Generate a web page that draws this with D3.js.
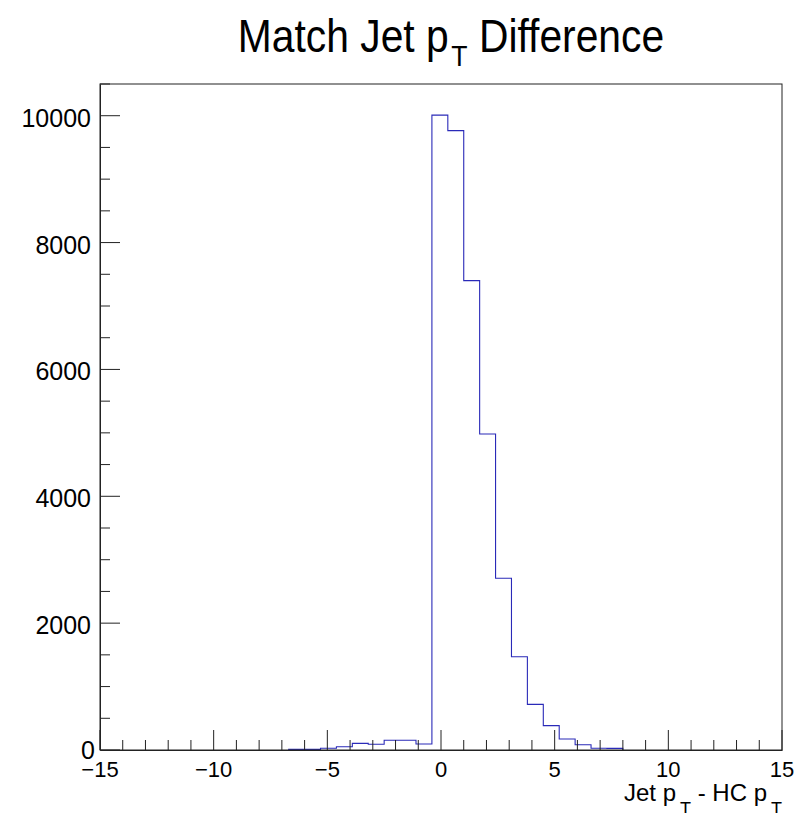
<!DOCTYPE html>
<html>
<head>
<meta charset="utf-8">
<script src="https://cdn.jsdelivr.net/npm/d3@7"></script>
<style>
  html, body { margin: 0; padding: 0; background: #fff; }
  svg { display: block; font-family: "Liberation Sans", Arial, Helvetica, sans-serif; }
</style>
</head>
<body>
<svg id="chart" width="802" height="813"></svg>
<script>
// ---- data ----
const binStart = -6.7;        // lower edge of first filled bin
const binWidth = 0.7;
const counts = [10, 10, 27, 52, 105, 90, 153, 153, 95,
                10010, 9765, 7400, 4981, 2707, 1471, 720, 384, 173, 82, 27, 25];
const xDomain = [-15, 15];
const yDomain = [0, 10500];
const xMajorTicks = [-15, -10, -5, 0, 5, 10, 15];
const yMajorTicks = [0, 2000, 4000, 6000, 8000, 10000];
const titleMain = ["Match Jet p", "T", " Difference"];
const xTitleParts = [["Jet p", false], ["T", true], [" - HC p", false], ["T", true]];

// ---- layout ----
const frame = { left: 100, right: 782, top: 84, bottom: 750 };
const svg = d3.select("#chart");

const x = d3.scaleLinear().domain(xDomain).range([frame.left, frame.right]);
const y = d3.scaleLinear().domain(yDomain).range([frame.bottom, frame.top]);

// ---- histogram outline ----
const bins = counts.map((c, i) => ({ x0: binStart + i * binWidth, x1: binStart + (i + 1) * binWidth, v: c }));
const pts = [[bins[0].x0, 0]];
bins.forEach(b => { pts.push([b.x0, b.v]); pts.push([b.x1, b.v]); });
pts.push([bins[bins.length - 1].x1, 0]);
svg.append("path")
  .attr("d", d3.line().x(d => x(d[0])).y(d => y(d[1]))(pts))
  .attr("fill", "none")
  .attr("stroke", "#2a2ab8")
  .attr("stroke-width", 1.1);

// ---- frame ----
svg.append("rect")
  .attr("x", frame.left).attr("y", frame.top)
  .attr("width", frame.right - frame.left).attr("height", frame.bottom - frame.top)
  .attr("fill", "none").attr("stroke", "#222").attr("stroke-width", 1);

// ---- x axis (ticks inside, ROOT style) ----
const xAxis = d3.axisBottom(x).tickValues(xMajorTicks).tickSize(0).tickFormat(() => "");
svg.append("g").attr("transform", `translate(0,${frame.bottom})`).call(xAxis)
  .call(g => g.select(".domain").attr("stroke", "#222"));
const xMinor = d3.range(xDomain[0], xDomain[1] + 0.001, 1);
const gx = svg.append("g");
xMinor.forEach(v => {
  const major = xMajorTicks.includes(v);
  gx.append("line")
    .attr("x1", x(v)).attr("x2", x(v))
    .attr("y1", frame.bottom).attr("y2", frame.bottom - (major ? 20 : 10))
    .attr("stroke", "#222").attr("stroke-width", 1);
});
xMajorTicks.forEach(v => {
  svg.append("text")
    .attr("x", x(v)).attr("y", 777)
    .attr("text-anchor", "middle")
    .attr("font-size", 22)
    .text(v < 0 ? "\u2212" + Math.abs(v) : String(v));
});

// ---- y axis ----
const yAxis = d3.axisLeft(y).tickValues(yMajorTicks).tickSize(0).tickFormat(() => "");
svg.append("g").attr("transform", `translate(${frame.left},0)`).call(yAxis)
  .call(g => g.select(".domain").attr("stroke", "#222"));
const yMinor = d3.range(yDomain[0], yDomain[1] + 1, 500);
const gy = svg.append("g");
yMinor.forEach(v => {
  const major = yMajorTicks.includes(v);
  gy.append("line")
    .attr("x1", frame.left).attr("x2", frame.left + (major ? 20 : 10))
    .attr("y1", y(v)).attr("y2", y(v))
    .attr("stroke", "#222").attr("stroke-width", 1);
});
yMajorTicks.forEach(v => {
  svg.append("text")
    .attr("x", v === 0 ? 95 : 91).attr("y", y(v) + (v === 0 ? 9 : 11))
    .attr("text-anchor", "end")
    .attr("font-size", 25)
    .text(String(v));
});

// ---- title (narrow Helvetica look) ----
const t = svg.append("text")
  .attr("transform", "translate(451,52) scale(0.887,1)")
  .attr("text-anchor", "middle")
  .attr("font-size", 46);
t.append("tspan").text(titleMain[0]);
t.append("tspan").attr("font-size", 30).attr("dx", 3).attr("dy", 14).text(titleMain[1]);
t.append("tspan").attr("dy", -14).text(titleMain[2]);

// ---- x axis title ----
const xt = svg.append("text")
  .attr("x", frame.right).attr("y", 801)
  .attr("text-anchor", "end")
  .attr("font-size", 24);
let shifted = false;
xTitleParts.forEach(([s, sub]) => {
  const ts = xt.append("tspan").text(s);
  if (sub) { ts.attr("font-size", 18).attr("dx", 4); }
  if (sub && !shifted) { ts.attr("dy", 14); shifted = true; }
  else if (!sub && shifted) { ts.attr("dy", -14); shifted = false; }
});
</script>
</body>
</html>
